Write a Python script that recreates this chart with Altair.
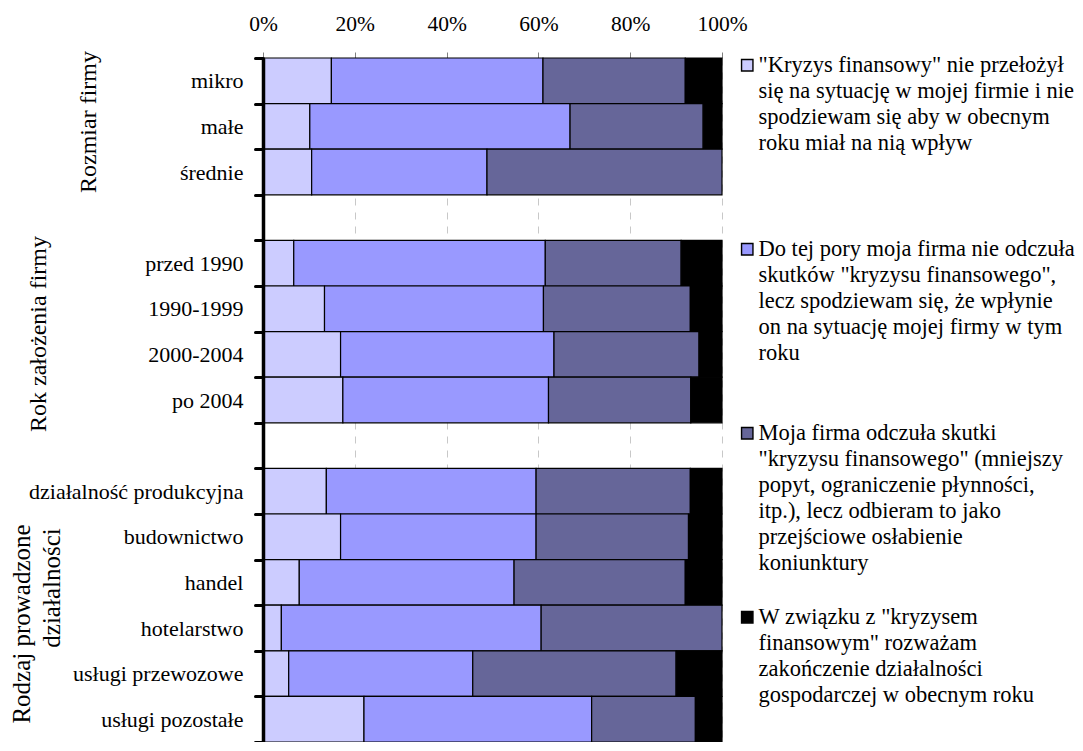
import altair as alt
import pandas as pd

FONT = "'Liberation Serif', 'Times New Roman', Times, serif"

# ---- data (% of answers) ----
row_order = [
    "mikro", "małe", "średnie", " ",
    "przed 1990", "1990-1999", "2000-2004", "po 2004", "  ",
    "działalność produkcyjna", "budownictwo", "handel", "hotelarstwo",
    "usługi przewozowe", "usługi pozostałe",
]
categories = [
    "mikro", "małe", "średnie",
    "przed 1990", "1990-1999", "2000-2004", "po 2004",
    "działalność produkcyjna", "budownictwo", "handel", "hotelarstwo",
    "usługi przewozowe", "usługi pozostałe",
]
series = [
    '"Kryzys finansowy" nie przełożył|się na sytuację w mojej firmie i nie|spodziewam się aby w obecnym|roku miał na nią wpływ',
    'Do tej pory moja firma nie odczuła|skutków "kryzysu finansowego",|lecz spodziewam się, że wpłynie|on na sytuację mojej firmy w tym|roku',
    'Moja firma odczuła skutki|"kryzysu finansowego" (mniejszy|popyt, ograniczenie płynności,|itp.), lecz odbieram to jako|przejściowe osłabienie|koniunktury',
    'W związku z "kryzysem|finansowym" rozważam|zakończenie działalności|gospodarczej w obecnym roku',
]
s1 = [14.9, 10.2, 10.6, 6.7, 13.4, 16.9, 17.4, 13.8, 16.9, 7.9, 4.0, 5.6, 22.0]
s2 = [46.1, 56.7, 38.2, 54.8, 47.7, 46.5, 44.8, 45.7, 42.6, 46.8, 56.6, 40.1, 49.6]
s3 = [31.0, 29.0, 51.2, 29.6, 32.0, 31.6, 31.0, 33.6, 33.2, 37.3, 39.4, 44.3, 22.6]
s4 = [8.0, 4.1, 0.0, 8.9, 6.9, 5.0, 6.8, 6.9, 7.3, 8.0, 0.0, 10.0, 5.8]
colors = ["#CCCCFF", "#9999FF", "#666699", "#000000"]

group_titles = ["Rozmiar firmy", "Rok założenia firmy", "Rodzaj prowadzone", "działalności"]

records = []
for i, cat in enumerate(categories):
    for j, vals in enumerate([s1, s2, s3, s4]):
        if vals[i] > 0:
            records.append({"kategoria": cat, "odpowiedz": series[j],
                            "udzial": vals[i], "kolejnosc": j})
df = pd.DataFrame(records)

W = 459
STEP = 45.6
H = STEP * len(row_order)

bars = alt.Chart(df).mark_bar(stroke="black", strokeWidth=1.2).encode(
    x=alt.X("udzial:Q", stack="normalize",
            scale=alt.Scale(domain=[0, 1], nice=False),
            axis=alt.Axis(orient="top", values=[0, 0.2, 0.4, 0.6, 0.8, 1.0],
                          format=".0%", title=None, grid=True,
                          gridColor="#c8c8c8", gridDash=[7, 7], gridWidth=1,
                          domain=False, ticks=True, tickColor="#808080",
                          tickSize=6, labelPadding=17, labelFlush=False,
                          labelFont=FONT, labelFontSize=21.5, labelColor="black")),
    y=alt.Y("kategoria:N", sort=row_order,
            scale=alt.Scale(domain=row_order, paddingInner=0, paddingOuter=0),
            axis=alt.Axis(title=None, tickBand="extent", tickColor="black",
                          tickWidth=3, tickSize=8, tickCap="round",
                          domainColor="black", domainWidth=3.5, zindex=2,
                          labelFont=FONT, labelFontSize=22, labelColor="black",
                          labelPadding=12, labelLimit=400)),
    color=alt.Color("odpowiedz:N",
                    scale=alt.Scale(domain=series, range=colors),
                    legend=alt.Legend(orient="none", legendX=473, legendY=-4,
                                      title=None, symbolType="square",
                                      symbolSize=130, symbolStrokeColor="black",
                                      symbolStrokeWidth=1.4, symbolOpacity=1,
                                      labelFont=FONT, labelFontSize=22.5,
                                      labelColor="black", labelLimit=1000,
                                      labelOffset=0, padding=0, rowPadding=5,
                                      labelExpr="slice(split(datum.label + '||||||', '|'), 0, 7)")),
    order=alt.Order("kolejnosc:Q"),
)


def title_text(txt, x, y, size):
    return alt.Chart(pd.DataFrame({"t": [txt]})).mark_text(
        angle=270, font=FONT, fontSize=size, align="center", baseline="middle",
        color="black").encode(text="t:N", x=alt.value(x), y=alt.value(y))


titles = [
    title_text(group_titles[0], -174, 64, 24),
    title_text(group_titles[1], -224, 276, 24),
    title_text(group_titles[2], -241, 566, 25),
    title_text(group_titles[3], -211, 530, 25),
]

chart = alt.layer(bars, *titles).properties(
    width=W, height=H,
    padding={"left": 255, "top": 50, "right": 353, "bottom": 0},
    autosize=alt.AutoSizeParams(type="none"),
).configure(
    font=FONT,
    style={"guide-label": {"lineHeight": 26}},
).configure_view(strokeWidth=0)

chart.save("out.html", embed_options={"renderer": "svg", "actions": False})
